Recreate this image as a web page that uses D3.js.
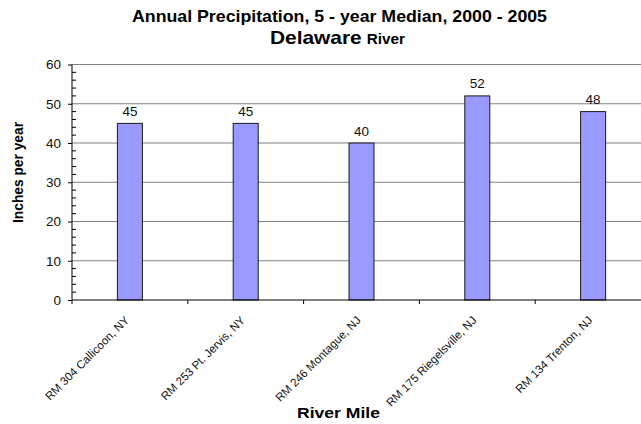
<!DOCTYPE html>
<html><head><meta charset="utf-8">
<script src="https://cdn.jsdelivr.net/npm/d3@7"></script>
<style>body{margin:0;background:#fff;}svg{display:block;font-family:Arial,"Liberation Sans",sans-serif;}</style>
</head><body>
<svg id="c" width="641" height="424"></svg>
<script>
const categories = ["RM 304 Callicoon, NY","RM 253 Pt. Jervis, NY","RM 246 Montague, NJ","RM 175 Riegelsville, NJ","RM 134 Trenton, NJ"];
const values = [45, 45, 40, 52, 48];
const yTicks = [0, 10, 20, 30, 40, 50, 60];

const svg = d3.select("#c");
const L = 72, R = 651, T = 64.5, B = 300;
const x = d3.scaleBand().domain(categories).range([L, R]).paddingInner(0.784).paddingOuter(0.392);
const step = x.step();
const y = d3.scaleLinear().domain([0, 60]).range([B, T]);

// gridlines
svg.append("g").selectAll("line").data(yTicks.filter(d => d > 0)).join("line")
  .attr("x1", L).attr("x2", R).attr("y1", d => y(d)).attr("y2", d => y(d))
  .attr("stroke", "#808080").attr("stroke-width", 1);

// bars
svg.append("g").selectAll("rect").data(values).join("rect")
  .attr("x", (d, i) => x(categories[i]))
  .attr("y", d => y(d))
  .attr("width", x.bandwidth())
  .attr("height", d => B - y(d))
  .attr("fill", "#9999FF").attr("stroke", "#1a1a1a").attr("stroke-width", 1);

// value labels
svg.append("g").selectAll("text").data(values).join("text")
  .attr("x", (d, i) => x(categories[i]) + x.bandwidth() / 2)
  .attr("y", d => y(d) - 7.5)
  .attr("text-anchor", "middle").attr("font-size", 13.5).attr("fill", "#111")
  .text(d => d);

// y axis
const yAxis = svg.append("g").attr("transform", `translate(${L},0)`)
  .call(d3.axisLeft(y).tickValues(yTicks).tickSize(4).tickPadding(7).tickFormat(d3.format("d")));
yAxis.select(".domain").remove();
yAxis.selectAll("line").attr("stroke", "#000");
yAxis.selectAll("text").attr("font-size", 13.5).attr("fill", "#111").attr("font-family", "Arial, 'Liberation Sans', sans-serif");
// minor ticks (inside)
svg.append("g").selectAll("line").data(d3.range(0, 61, 2).filter(d => d % 10 !== 0)).join("line")
  .attr("x1", L).attr("x2", L + 4).attr("y1", d => y(d)).attr("y2", d => y(d)).attr("stroke", "#000");
svg.append("line").attr("x1", L).attr("x2", L).attr("y1", T).attr("y2", B).attr("stroke", "#000");

// x axis
svg.append("line").attr("x1", L).attr("x2", R).attr("y1", B).attr("y2", B).attr("stroke", "#000");
svg.append("g").selectAll("line").data(d3.range(0, categories.length + 1)).join("line")
  .attr("x1", i => L + i * step).attr("x2", i => L + i * step)
  .attr("y1", B).attr("y2", B + 4).attr("stroke", "#000");
svg.append("g").selectAll("text").data(categories).join("text")
  .attr("transform", d => `translate(${x(d) + x.bandwidth() / 2},${B + 21}) rotate(-45)`)
  .attr("text-anchor", "end").attr("font-size", 11.5).attr("fill", "#111")
  .text(d => d);

// titles
svg.append("text").attr("x", 132).attr("y", 21.5)
  .attr("font-size", 16.3).attr("font-weight", "bold").attr("fill", "#000")
  .attr("textLength", 415).attr("lengthAdjust", "spacingAndGlyphs")
  .text("Annual Precipitation, 5 - year Median, 2000 - 2005");
svg.append("text").attr("x", 270).attr("y", 44.3)
  .attr("font-size", 17.7).attr("font-weight", "bold").attr("fill", "#000")
  .attr("textLength", 91.7).attr("lengthAdjust", "spacingAndGlyphs").text("Delaware");
svg.append("text").attr("x", 366.7).attr("y", 44.3)
  .attr("font-size", 14).attr("font-weight", "bold").attr("fill", "#000")
  .attr("textLength", 38.3).attr("lengthAdjust", "spacingAndGlyphs").text("River");

svg.append("text").attr("transform", `translate(22.7,172.5) rotate(-90)`).attr("text-anchor", "middle")
  .attr("font-size", 14).attr("font-weight", "bold").attr("fill", "#000")
  .attr("textLength", 101).attr("lengthAdjust", "spacingAndGlyphs").text("Inches per year");
svg.append("text").attr("x", 297).attr("y", 417.7)
  .attr("font-size", 15.4).attr("font-weight", "bold").attr("fill", "#000")
  .attr("textLength", 83).attr("lengthAdjust", "spacingAndGlyphs").text("River Mile");
</script>
</body></html>
